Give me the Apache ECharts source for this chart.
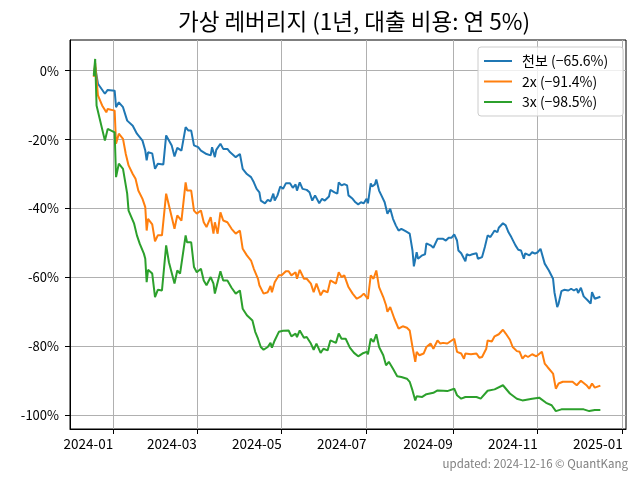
<!DOCTYPE html>
<html>
<head>
<meta charset="utf-8">
<script src="https://cdn.jsdelivr.net/npm/echarts@6/dist/echarts.min.js"></script>
<style>html,body{margin:0;padding:0;background:#fff}#c{width:640px;height:480px}</style>
</head>
<body>
<div id="c"></div>
<script>
const titleText = '가상 레버리지 (1년, 대출 비용: 연 5%)';
const footerText = 'updated: 2024-12-16 © QuantKang';
const seriesNames = ['천보 (−65.6%)', '2x (−91.4%)', '3x (−98.5%)'];
const seriesColors = ['#1f77b4', '#ff7f0e', '#2ca02c'];
const xTickDates = ['2024-01-01','2024-03-01','2024-05-01','2024-07-01','2024-09-01','2024-11-01','2025-01-01'];
const yTicks = [-100, -80, -60, -40, -20, 0];

const baseSeries = [
['2023-12-18',-1.0],['2023-12-19',1.1],['2023-12-21',-3.8],['2023-12-26',-6.7],['2023-12-28',-5.6],
['2024-01-02',-5.8],['2024-01-03',-10.6],['2024-01-05',-9.2],['2024-01-08',-10.6],['2024-01-11',-14.5],['2024-01-15',-16.0],['2024-01-18',-18.3],['2024-01-22',-20.3],['2024-01-24',-23.2],['2024-01-25',-26.0],['2024-01-26',-23.7],['2024-01-29',-24.0],['2024-01-31',-28.5],
['2024-02-02',-27.0],['2024-02-06',-27.2],['2024-02-08',-18.8],['2024-02-12',-21.7],['2024-02-14',-24.9],['2024-02-16',-22.4],['2024-02-19',-23.2],['2024-02-22',-16.4],['2024-02-24',-17.4],['2024-02-26',-17.4],['2024-02-28',-21.7],
['2024-03-02',-22.2],['2024-03-04',-23.2],['2024-03-08',-24.2],['2024-03-11',-24.6],['2024-03-12',-22.2],['2024-03-14',-25.1],['2024-03-15',-23.0],['2024-03-18',-21.2],['2024-03-20',-22.7],['2024-03-23',-22.7],['2024-03-25',-23.7],['2024-03-29',-25.1],
['2024-04-01',-24.2],['2024-04-03',-28.5],['2024-04-06',-30.0],['2024-04-09',-30.9],['2024-04-11',-32.4],['2024-04-13',-34.3],['2024-04-15',-35.3],['2024-04-16',-37.7],['2024-04-19',-38.5],['2024-04-21',-37.5],['2024-04-23',-37.9],['2024-04-25',-35.7],['2024-04-26',-37.7],['2024-04-28',-36.2],['2024-04-30',-33.6],
['2024-05-02',-34.3],['2024-05-04',-32.7],['2024-05-07',-32.7],['2024-05-09',-34.0],['2024-05-11',-33.0],['2024-05-12',-34.8],['2024-05-14',-32.4],['2024-05-16',-34.3],['2024-05-19',-34.6],['2024-05-21',-35.3],['2024-05-23',-37.7],['2024-05-25',-36.2],['2024-05-28',-38.5],['2024-05-30',-37.2],
['2024-06-01',-37.7],['2024-06-04',-36.5],['2024-06-05',-34.6],['2024-06-08',-35.3],['2024-06-10',-35.7],['2024-06-11',-32.4],['2024-06-13',-33.3],['2024-06-15',-32.9],['2024-06-17',-33.3],['2024-06-18',-36.2],['2024-06-21',-37.2],['2024-06-23',-38.2],['2024-06-25',-38.8],['2024-06-27',-38.2],['2024-06-29',-38.5],
['2024-07-01',-37.2],['2024-07-02',-38.5],['2024-07-04',-32.7],['2024-07-05',-33.6],['2024-07-07',-33.0],['2024-07-08',-31.6],['2024-07-10',-34.8],['2024-07-12',-36.5],['2024-07-14',-38.2],['2024-07-16',-41.5],['2024-07-18',-40.1],['2024-07-20',-43.0],['2024-07-22',-44.9],['2024-07-24',-46.4],['2024-07-26',-45.9],['2024-07-29',-46.6],['2024-07-30',-46.4],
['2024-08-01',-47.3],['2024-08-03',-52.2],['2024-08-04',-56.8],['2024-08-06',-52.7],['2024-08-07',-54.6],['2024-08-10',-53.6],['2024-08-12',-53.3],['2024-08-13',-50.1],['2024-08-16',-50.7],['2024-08-18',-51.4],['2024-08-21',-48.8],['2024-08-22',-49.3],['2024-08-25',-48.8],['2024-08-27',-49.3],['2024-08-29',-48.5],['2024-08-31',-48.5],
['2024-09-02',-47.5],['2024-09-04',-49.3],['2024-09-05',-52.2],['2024-09-07',-53.0],['2024-09-08',-52.7],['2024-09-10',-55.3],['2024-09-11',-53.3],['2024-09-13',-53.6],['2024-09-15',-53.3],['2024-09-18',-53.0],['2024-09-19',-54.6],['2024-09-22',-54.1],['2024-09-24',-51.2],['2024-09-26',-47.8],['2024-09-28',-48.3],
['2024-10-01',-46.4],['2024-10-03',-46.9],['2024-10-04',-45.6],['2024-10-07',-44.3],['2024-10-09',-44.9],['2024-10-11',-46.9],['2024-10-13',-48.3],['2024-10-16',-50.7],['2024-10-18',-52.0],['2024-10-20',-52.2],['2024-10-22',-54.6],['2024-10-23',-53.0],['2024-10-26',-53.6],['2024-10-28',-52.7],['2024-10-30',-53.1],
['2024-11-01',-52.7],['2024-11-03',-51.7],['2024-11-04',-52.0],['2024-11-06',-56.0],['2024-11-09',-58.0],['2024-11-12',-60.4],['2024-11-13',-64.3],['2024-11-15',-68.6],['2024-11-16',-67.6],['2024-11-18',-64.0],['2024-11-20',-63.6],['2024-11-23',-63.8],['2024-11-25',-63.3],['2024-11-27',-63.8],['2024-11-29',-63.3],['2024-11-30',-64.5],
['2024-12-02',-63.0],['2024-12-04',-65.5],['2024-12-05',-65.7],['2024-12-07',-66.7],['2024-12-09',-67.6],['2024-12-10',-64.3],['2024-12-12',-66.2],['2024-12-14',-65.9],['2024-12-16',-65.6]
];

const x2Series = [
['2023-12-18',-1.8],['2023-12-19',2.2],['2023-12-21',-7.2],['2023-12-24',-10.1],['2023-12-27',-12.1],['2023-12-28',-11.1],
['2024-01-02',-11.6],['2024-01-03',-21.2],['2024-01-05',-18.3],['2024-01-08',-19.8],['2024-01-10',-24.2],['2024-01-12',-27.5],['2024-01-15',-30.0],['2024-01-17',-31.4],['2024-01-19',-34.8],['2024-01-22',-37.2],['2024-01-24',-39.6],['2024-01-25',-46.4],['2024-01-26',-43.0],['2024-01-29',-44.6],['2024-01-31',-49.5],
['2024-02-02',-47.8],['2024-02-05',-47.8],['2024-02-06',-47.3],['2024-02-08',-35.7],['2024-02-12',-42.5],['2024-02-14',-45.9],['2024-02-16',-42.0],['2024-02-19',-43.5],['2024-02-22',-32.4],['2024-02-23',-34.8],['2024-02-26',-34.8],['2024-02-28',-40.6],
['2024-03-01',-41.5],['2024-03-04',-40.6],['2024-03-06',-44.0],['2024-03-08',-45.4],['2024-03-11',-42.5],['2024-03-13',-47.3],['2024-03-14',-44.0],['2024-03-16',-47.3],['2024-03-18',-41.1],['2024-03-20',-43.5],['2024-03-23',-44.0],['2024-03-26',-45.9],['2024-03-29',-47.3],
['2024-04-01',-46.4],['2024-04-03',-51.7],['2024-04-06',-53.6],['2024-04-09',-55.1],['2024-04-11',-57.5],['2024-04-14',-60.4],['2024-04-15',-62.3],['2024-04-18',-64.7],['2024-04-21',-64.3],['2024-04-23',-62.5],['2024-04-24',-64.3],['2024-04-26',-61.4],['2024-04-29',-59.4],
['2024-05-01',-59.4],['2024-05-04',-58.2],['2024-05-06',-58.2],['2024-05-08',-59.4],['2024-05-11',-58.5],['2024-05-12',-60.4],['2024-05-14',-57.8],['2024-05-17',-60.4],['2024-05-19',-60.4],['2024-05-22',-61.8],['2024-05-24',-64.3],['2024-05-26',-61.8],['2024-05-29',-65.2],['2024-05-31',-63.8],
['2024-06-03',-64.3],['2024-06-05',-60.9],['2024-06-09',-61.8],['2024-06-11',-58.5],['2024-06-13',-59.9],['2024-06-15',-59.4],['2024-06-18',-62.8],['2024-06-21',-64.7],['2024-06-24',-66.2],['2024-06-27',-65.5],['2024-06-29',-64.7],
['2024-07-02',-66.2],['2024-07-04',-59.4],['2024-07-06',-60.4],['2024-07-08',-58.0],['2024-07-10',-62.8],['2024-07-13',-65.7],['2024-07-15',-68.1],['2024-07-16',-70.0],['2024-07-18',-68.6],['2024-07-21',-72.0],['2024-07-24',-74.9],['2024-07-27',-74.2],['2024-07-30',-74.6],
['2024-08-01',-75.4],['2024-08-03',-80.2],['2024-08-05',-84.5],['2024-08-06',-81.6],['2024-08-08',-82.6],['2024-08-11',-82.1],['2024-08-13',-80.2],['2024-08-16',-79.2],['2024-08-18',-80.7],['2024-08-21',-78.3],['2024-08-23',-79.2],['2024-08-25',-79.0],['2024-08-28',-79.2],
['2024-09-02',-77.8],['2024-09-04',-81.6],['2024-09-07',-82.1],['2024-09-09',-83.6],['2024-09-10',-82.1],['2024-09-14',-82.3],['2024-09-18',-82.1],['2024-09-20',-83.3],['2024-09-22',-83.1],['2024-09-25',-80.7],['2024-09-26',-78.3],['2024-09-29',-78.6],
['2024-10-01',-77.1],['2024-10-04',-76.5],['2024-10-07',-75.2],['2024-10-09',-76.3],['2024-10-12',-78.1],['2024-10-14',-80.2],['2024-10-17',-81.4],['2024-10-19',-81.6],['2024-10-21',-83.6],['2024-10-23',-82.6],['2024-10-25',-83.1],['2024-10-28',-82.3],['2024-10-31',-82.9],
['2024-11-04',-81.6],['2024-11-06',-85.0],['2024-11-08',-86.0],['2024-11-12',-87.9],['2024-11-14',-92.3],['2024-11-16',-90.8],['2024-11-19',-90.3],['2024-11-23',-90.3],['2024-11-26',-90.3],['2024-11-29',-91.3],
['2024-12-02',-90.0],['2024-12-06',-91.3],['2024-12-08',-92.3],['2024-12-10',-90.8],['2024-12-12',-92.0],['2024-12-16',-91.4]
];

const x3Series = [
['2023-12-18',-1.5],['2023-12-19',3.4],['2023-12-20',-10.1],['2023-12-22',-13.5],['2023-12-26',-20.3],['2023-12-28',-16.9],
['2024-01-02',-17.9],['2024-01-03',-30.9],['2024-01-05',-27.0],['2024-01-08',-28.5],['2024-01-09',-30.9],['2024-01-11',-35.7],['2024-01-12',-40.6],['2024-01-14',-42.5],['2024-01-16',-44.4],['2024-01-18',-47.8],['2024-01-20',-50.2],['2024-01-23',-53.1],['2024-01-24',-54.6],['2024-01-25',-61.4],['2024-01-26',-57.8],['2024-01-29',-58.9],['2024-01-31',-65.7],
['2024-02-02',-63.6],['2024-02-05',-63.8],['2024-02-06',-64.0],['2024-02-08',-50.7],['2024-02-10',-55.6],['2024-02-14',-61.8],['2024-02-16',-58.0],['2024-02-18',-58.9],['2024-02-22',-47.8],['2024-02-23',-49.8],['2024-02-26',-49.8],['2024-02-28',-57.0],
['2024-03-01',-58.5],['2024-03-04',-57.5],['2024-03-06',-60.9],['2024-03-08',-62.3],['2024-03-11',-59.9],['2024-03-13',-61.8],['2024-03-14',-64.7],['2024-03-16',-61.4],['2024-03-18',-58.2],['2024-03-20',-60.9],['2024-03-23',-60.9],['2024-03-26',-63.0],['2024-03-29',-64.7],
['2024-04-01',-63.8],['2024-04-03',-69.1],['2024-04-06',-71.0],['2024-04-10',-72.5],['2024-04-12',-75.8],['2024-04-14',-77.8],['2024-04-16',-80.2],['2024-04-18',-81.0],['2024-04-21',-80.2],['2024-04-23',-79.0],['2024-04-24',-80.4],['2024-04-26',-78.3],['2024-04-29',-75.8],
['2024-05-02',-75.5],['2024-05-06',-75.4],['2024-05-08',-77.1],['2024-05-11',-76.3],['2024-05-12',-77.3],['2024-05-14',-75.4],['2024-05-17',-77.5],['2024-05-19',-77.3],['2024-05-22',-79.2],['2024-05-24',-81.0],['2024-05-26',-79.2],['2024-05-29',-81.9],['2024-05-31',-80.7],
['2024-06-03',-81.2],['2024-06-05',-78.3],['2024-06-09',-79.0],['2024-06-11',-76.3],['2024-06-13',-77.8],['2024-06-16',-77.8],['2024-06-19',-80.4],['2024-06-22',-81.9],['2024-06-25',-82.9],['2024-06-28',-82.1],
['2024-07-01',-81.6],['2024-07-02',-82.3],['2024-07-04',-77.8],['2024-07-06',-78.7],['2024-07-08',-76.5],['2024-07-10',-80.2],['2024-07-13',-82.6],['2024-07-15',-85.5],['2024-07-17',-84.5],['2024-07-20',-86.5],['2024-07-23',-88.7],['2024-07-26',-88.9],['2024-07-30',-89.4],
['2024-08-01',-90.3],['2024-08-03',-92.8],['2024-08-05',-95.7],['2024-08-06',-94.5],['2024-08-10',-94.7],['2024-08-13',-93.9],['2024-08-18',-93.5],['2024-08-21',-92.8],['2024-08-25',-92.9],['2024-08-28',-93.0],
['2024-09-02',-92.3],['2024-09-04',-94.2],['2024-09-07',-95.2],['2024-09-10',-94.7],['2024-09-18',-94.7],['2024-09-21',-95.2],['2024-09-26',-92.9],
['2024-10-01',-92.5],['2024-10-07',-91.3],['2024-10-12',-93.7],['2024-10-17',-95.2],['2024-10-21',-95.7],['2024-10-28',-95.2],
['2024-11-02',-94.9],['2024-11-07',-96.4],['2024-11-11',-97.1],['2024-11-14',-98.8],['2024-11-18',-98.3],['2024-11-26',-98.3],
['2024-12-04',-98.3],['2024-12-08',-98.8],['2024-12-12',-98.5],['2024-12-16',-98.5]
];

function ts(s) {
  const p = s.split(/[- :]/).map(Number);
  return Date.UTC(p[0], p[1] - 1, p[2], p[3] || 0);
}
const FONT = '"Noto Sans CJK KR", "Noto Sans", sans-serif';
const xMin = ts('2023-11-30 22');
const xMax = ts('2025-01-03 10');
const xTicks = xTickDates.map(ts);

const chart = echarts.init(document.getElementById('c'), null, {renderer: 'canvas'});
const allSeries = [baseSeries, x2Series, x3Series];
chart.setOption({
  animation: false,
  backgroundColor: '#fff',
  title: [
    {text: titleText, left: 349, top: 5, textAlign: 'center',
     textStyle: {fontFamily: FONT, fontSize: 22.5, fontWeight: 'normal', color: '#000'}},
    {text: footerText, right: 7, bottom: 6,
     textStyle: {fontFamily: FONT, fontSize: 11.5, fontWeight: 'normal', color: '#808080'}}
  ],
  grid: {left: 70, right: 14, top: 40, bottom: 51, show: true, borderColor: '#000', borderWidth: 1, backgroundColor: 'transparent'},
  legend: {
    orient: 'vertical', left: 478, top: 47,
    padding: [7, 15, 7, 6], itemGap: 6.5, itemWidth: 28, itemHeight: 2, icon: 'rect',
    backgroundColor: 'rgba(255,255,255,0.8)', borderColor: '#cccccc', borderWidth: 1, borderRadius: 3,
    textStyle: {fontFamily: FONT, fontSize: 14, color: '#000', padding: [0, 0, 0, 5]},
    data: seriesNames.map(function (n, i) { return {name: n, icon: 'rect', itemStyle: {color: seriesColors[i]}}; })
  },
  xAxis: {
    type: 'value', min: xMin, max: xMax,
    axisLine: {show: true, onZero: false, lineStyle: {color: '#000', width: 1}},
    axisTick: {show: true, length: 5, customValues: xTicks, lineStyle: {color: '#000'}},
    axisLabel: {customValues: xTicks, align: 'right', margin: 8, fontFamily: FONT, fontSize: 13.5, color: '#000',
      formatter: function (v) { const d = new Date(v); return d.getUTCFullYear() + '-' + String(d.getUTCMonth() + 1).padStart(2, '0'); }},
    splitLine: {show: true, lineStyle: {color: '#b0b0b0', width: 1}}
  },
  yAxis: {
    type: 'value', min: -104.0, max: 8.9,
    axisLine: {show: true, onZero: false, lineStyle: {color: '#000', width: 1}},
    axisTick: {show: true, length: 5, customValues: yTicks, lineStyle: {color: '#000'}},
    axisLabel: {customValues: yTicks, margin: 11, fontFamily: FONT, fontSize: 13, color: '#000',
      formatter: function (v) { return Math.round(v) + '%'; }},
    splitLine: {show: true, lineStyle: {color: '#b0b0b0', width: 1}}
  },
  series: allSeries.map(function (s, i) {
    return {
      name: seriesNames[i], type: 'line', symbol: 'none', showSymbol: false,
      lineStyle: {color: seriesColors[i], width: 2}, itemStyle: {color: seriesColors[i]},
      data: s.map(function (p) { return [ts(p[0]), p[1]]; })
    };
  })
});
</script>
</body>
</html>
